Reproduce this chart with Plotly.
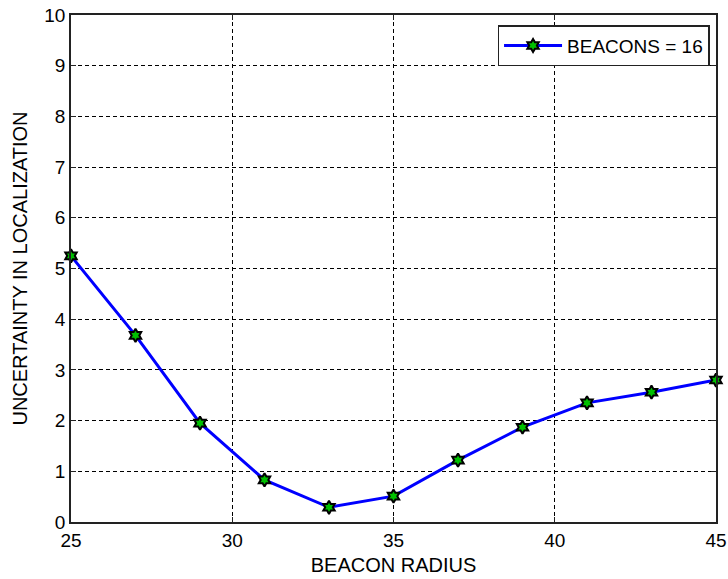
import plotly.graph_objects as go

beacon_radius = [25, 27, 29, 31, 33, 35, 37, 39, 41, 43, 45]
uncertainty = [5.25, 3.68, 1.95, 0.83, 0.29, 0.51, 1.22, 1.87, 2.35, 2.56, 2.8]
series_name = "BEACONS = 16"
x_ticks = [25, 30, 35, 40, 45]
y_ticks = [0, 1, 2, 3, 4, 5, 6, 7, 8, 9, 10]

FONT = "Liberation Sans, Arial, sans-serif"

fig = go.Figure()
fig.add_trace(go.Scatter(
    x=beacon_radius, y=uncertainty, mode="lines+markers", name=series_name,
    line=dict(color="#0000ff", width=3),
    marker=dict(symbol="hexagram", size=10, color="#00c000",
                line=dict(color="black", width=2)),
    cliponaxis=False,
))

axis_common = dict(
    showline=True, linecolor="#222222", linewidth=1.5, mirror="ticks",
    ticks="inside", ticklen=5, tickcolor="#222222",
    showgrid=True, gridcolor="black", griddash="4px,3px", gridwidth=1,
    zeroline=False, automargin=False,
    tickfont=dict(family=FONT, size=19, color="black"),
)

fig.update_layout(
    width=728, height=579,
    margin=dict(l=71, r=12, t=15, b=57),
    paper_bgcolor="white", plot_bgcolor="white",
    font=dict(family=FONT, size=19, color="black"),
    xaxis=dict(range=[25, 45], tickvals=x_ticks,
               title=dict(text="BEACON RADIUS", standoff=8,
                          font=dict(size=20)), **axis_common),
    yaxis=dict(range=[0, 10], tickvals=y_ticks,
               title=dict(text="UNCERTAINTY IN LOCALIZATION", standoff=11,
                          font=dict(size=20)), **axis_common),
    showlegend=True,
    legend=dict(x=0.99, y=0.98, xanchor="right", yanchor="top",
                bgcolor="white", bordercolor="#222222", borderwidth=1.5,
                font=dict(size=19), itemwidth=58,
                tracegroupgap=0),
)

fig.write_html("out.html",
               config={"displayModeBar": False},
               post_script="document.body.style.margin='0';document.body.style.overflow='hidden';")
